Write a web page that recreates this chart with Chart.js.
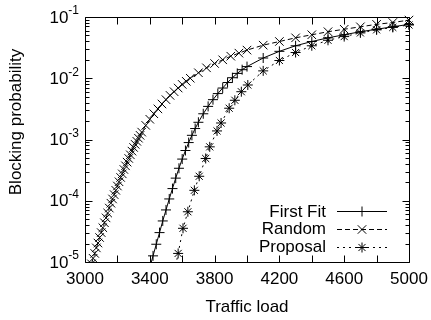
<!DOCTYPE html>
<html>
<head>
<meta charset="utf-8">
<script src="https://cdn.jsdelivr.net/npm/chart.js@4/dist/chart.umd.min.js"></script>
<style>
  html, body { margin: 0; padding: 0; background: #fff; }
  #wrap { width: 431px; height: 320px; }
</style>
</head>
<body>
<div id="wrap"><canvas id="chart" width="431" height="320"></canvas></div>
<script>
// Blocking probability vs traffic load, three allocation schemes.
// Values (log y axis).
const randomLoad = [
  3040, 3050, 3060, 3070, 3080, 3090, 3100, 3110, 3120, 3130, 3140, 3150,
  3160, 3170, 3180, 3190, 3200, 3210, 3220, 3230, 3240, 3250, 3260, 3270,
  3280, 3290, 3300, 3310, 3320, 3330, 3340, 3350, 3375, 3400, 3425, 3450,
  3475, 3500, 3525, 3550, 3575, 3600, 3625, 3650, 3700, 3750, 3800, 3850,
  3900, 3950, 4000, 4100, 4200, 4300, 4400, 4500, 4600, 4700, 4800, 4900, 5000
];
const randomBlocking = [
  9.33e-6, 1.15e-5, 1.38e-5, 1.70e-5, 2.04e-5, 2.51e-5, 3.02e-5, 3.63e-5, 4.37e-5, 5.25e-5, 6.31e-5, 7.59e-5,
  9.12e-5, 1.07e-4, 1.26e-4, 1.48e-4, 1.74e-4, 2.04e-4, 2.40e-4, 2.75e-4, 3.24e-4, 3.72e-4, 4.27e-4, 4.90e-4,
  5.62e-4, 6.46e-4, 7.41e-4, 8.32e-4, 9.33e-4, 1.05e-3, 1.17e-3, 1.32e-3, 1.70e-3, 2.14e-3, 2.63e-3, 3.16e-3,
  3.80e-3, 4.47e-3, 5.25e-3, 6.03e-3, 6.92e-3, 7.94e-3, 8.91e-3, 1.00e-2, 1.23e-2, 1.48e-2, 1.74e-2, 2.00e-2,
  2.29e-2, 2.57e-2, 2.88e-2, 3.47e-2, 3.98e-2, 4.57e-2, 5.13e-2, 5.75e-2, 6.31e-2, 6.92e-2, 7.59e-2, 8.13e-2, 8.91e-2
];

const firstFitLoad = [
  3400, 3420, 3440, 3460, 3480, 3500, 3520, 3540, 3560, 3580, 3600, 3620,
  3640, 3660, 3680, 3700, 3730, 3760, 3790, 3820, 3850, 3880, 3910, 3940,
  3970, 4000, 4100, 4200, 4300, 4400, 4500, 4600, 4700, 4800, 4900, 5000
];
const firstFitBlocking = [
  8.13e-6, 1.26e-5, 1.95e-5, 3.02e-5, 4.68e-5, 7.08e-5, 1.07e-4, 1.58e-4, 2.34e-4, 3.39e-4, 4.79e-4, 6.61e-4,
  8.91e-4, 1.17e-3, 1.51e-3, 1.91e-3, 2.63e-3, 3.47e-3, 4.47e-3, 5.62e-3, 6.92e-3, 8.51e-3, 1.02e-2, 1.20e-2,
  1.38e-2, 1.55e-2, 2.14e-2, 2.75e-2, 3.39e-2, 3.98e-2, 4.57e-2, 5.13e-2, 5.75e-2, 6.31e-2, 6.92e-2, 7.59e-2
];

const proposalLoad = [
  3545, 3575, 3605, 3635, 3675, 3705, 3745, 3770, 3815, 3840, 3890, 3925,
  3965, 4005, 4100, 4200, 4300, 4400, 4500, 4600, 4700, 4800, 4900, 5000
];
const proposalBlocking = [
  5.62e-6, 1.38e-5, 3.55e-5, 6.61e-5, 1.48e-4, 2.51e-4, 4.90e-4, 7.59e-4, 1.38e-3, 1.86e-3, 3.24e-3, 4.37e-3,
  6.03e-3, 7.76e-3, 1.32e-2, 1.95e-2, 2.63e-2, 3.39e-2, 4.17e-2, 4.79e-2, 5.50e-2, 6.17e-2, 6.76e-2, 7.41e-2
];

const xTickValues = [3000, 3200, 3400, 3600, 3800, 4000, 4200, 4400, 4600, 4800, 5000];
const xTickLabels = [3000, 3400, 3800, 4200, 4600, 5000];
const yTickValues = [1e-5, 1e-4, 1e-3, 1e-2, 1e-1];
const yTickExponents = ["-5", "-4", "-3", "-2", "-1"];

const FONT = "'Liberation Sans', Arial, Helvetica, sans-serif";

function pairs(xs, ys) {
  return xs.map((x, i) => ({ x: x, y: ys[i] }));
}

// Draws the gnuplot-style frame: box border, inward ticks, labels,
// axis titles and the right-aligned key inside the plot.
const gnuplotFrame = {
  id: "gnuplotFrame",
  afterDraw(chart) {
    const ctx = chart.ctx;
    const a = chart.chartArea;
    const xs = chart.scales.x;
    const ys = chart.scales.y;
    const L = Math.round(a.left) + 0.5, R = Math.round(a.right) + 0.5;
    const T = Math.round(a.top) + 0.5, B = Math.round(a.bottom) + 0.5;
    ctx.save();
    ctx.strokeStyle = "#000";
    ctx.lineWidth = 1;
    ctx.setLineDash([]);
    ctx.beginPath();
    ctx.rect(L, T, R - L, B - T);

    xTickValues.forEach((v) => {
      const px = Math.round(xs.getPixelForValue(v)) + 0.5;
      ctx.moveTo(px, B); ctx.lineTo(px, B - 7);
      ctx.moveTo(px, T); ctx.lineTo(px, T + 7);
    });
    yTickValues.forEach((v, i) => {
      const py = Math.round(ys.getPixelForValue(v)) + 0.5;
      ctx.moveTo(L, py); ctx.lineTo(L + 7, py);
      ctx.moveTo(R, py); ctx.lineTo(R - 7, py);
      if (i < yTickValues.length - 1) {
        for (let m = 2; m <= 9; m++) {
          const pm = Math.round(ys.getPixelForValue(v * m)) + 0.5;
          ctx.moveTo(L, pm); ctx.lineTo(L + 4, pm);
          ctx.moveTo(R, pm); ctx.lineTo(R - 4, pm);
        }
      }
    });
    ctx.stroke();

    ctx.fillStyle = "#000";
    ctx.textBaseline = "middle";
    ctx.font = "17px " + FONT;
    ctx.textAlign = "center";
    xTickLabels.forEach((v) => {
      ctx.fillText(String(v), xs.getPixelForValue(v), a.bottom + 17);
    });

    yTickValues.forEach((v, i) => {
      const py = ys.getPixelForValue(v);
      ctx.font = "12px " + FONT;
      const supW = ctx.measureText(yTickExponents[i]).width;
      ctx.textAlign = "right";
      ctx.fillText(yTickExponents[i], a.left - 6, py - 6);
      ctx.font = "17px " + FONT;
      ctx.fillText("10", a.left - 6 - supW, py + 1);
    });

    ctx.font = "17px " + FONT;
    ctx.textAlign = "center";
    ctx.fillText("Traffic load", (a.left + a.right) / 2, 307);
    ctx.save();
    ctx.translate(16, 122);
    ctx.rotate(-Math.PI / 2);
    ctx.fillText("Blocking probability", 0, 0);
    ctx.restore();

    // key
    const rows = [211, 228.5, 246.5];
    chart.data.datasets.forEach((ds, i) => {
      const ry = rows[i];
      ctx.textAlign = "right";
      ctx.fillText(ds.label, 326, ry + 1);
      ctx.beginPath();
      ctx.setLineDash(ds.borderDash || []);
      ctx.moveTo(337, Math.round(ry) + 0.5);
      ctx.lineTo(387, Math.round(ry) + 0.5);
      ctx.stroke();
      ctx.setLineDash([]);
      Chart.helpers.drawPoint(ctx, {
        pointStyle: ds.pointStyle,
        radius: ds.pointRadius,
        rotation: 0,
        borderWidth: 1
      }, 362, Math.round(ry) + 0.5);
    });
    ctx.restore();
  }
};

new Chart(document.getElementById("chart"), {
  type: "line",
  data: {
    datasets: [
      {
        label: "First Fit",
        data: pairs(firstFitLoad, firstFitBlocking),
        borderColor: "#000",
        borderWidth: 1,
        pointStyle: "cross",
        pointRadius: 5,
        pointBorderColor: "#000",
        pointBorderWidth: 1,
        clip: { left: 6, top: 6, right: 6, bottom: 0 }
      },
      {
        label: "Random",
        data: pairs(randomLoad, randomBlocking),
        borderColor: "#000",
        borderWidth: 1,
        borderDash: [5, 3],
        pointStyle: "crossRot",
        pointRadius: 6,
        pointBorderColor: "#000",
        pointBorderWidth: 1,
        clip: { left: 6, top: 6, right: 6, bottom: 0 }
      },
      {
        label: "Proposal",
        data: pairs(proposalLoad, proposalBlocking),
        borderColor: "#000",
        borderWidth: 1,
        borderDash: [2, 4],
        pointStyle: "star",
        pointRadius: 5,
        pointBorderColor: "#000",
        pointBorderWidth: 1,
        clip: { left: 6, top: 6, right: 6, bottom: 0 }
      }
    ]
  },
  options: {
    responsive: false,
    animation: false,
    layout: { padding: { left: 85, right: 22, top: 17, bottom: 58 } },
    elements: { line: { tension: 0 } },
    scales: {
      x: { type: "linear", min: 3000, max: 5000, display: false },
      y: { type: "logarithmic", min: 1e-5, max: 1e-1, display: false }
    },
    plugins: { legend: { display: false }, tooltip: { enabled: false } }
  },
  plugins: [gnuplotFrame]
});
</script>
</body>
</html>
